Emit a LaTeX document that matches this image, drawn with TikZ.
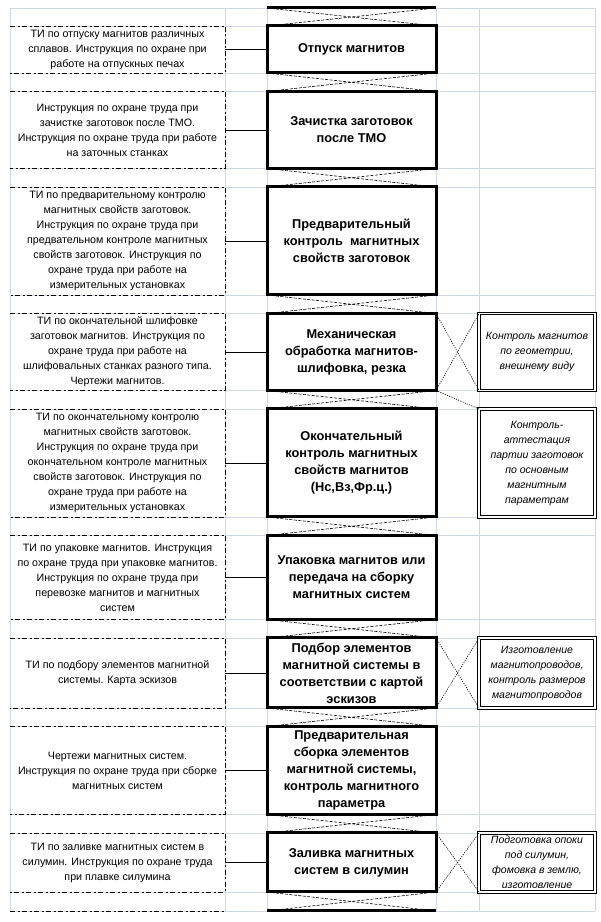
\documentclass[tikz,border=0pt]{standalone}
\usepackage{fontspec}
\setmainfont{Liberation Sans}
\usepackage{tikz}
\usetikzlibrary{positioning, backgrounds}
\definecolor{gridgray}{HTML}{D0D7E5}

\begin{document}
\begin{tikzpicture}[x=1pt, y=1pt, node distance=18.5pt,
        every node/.style={align=center, inner sep=0pt, outer sep=0pt},
        opbox/.style={draw, line width=3pt, minimum width=169pt, font=\fontsize{12.8}{17}\selectfont\bfseries},
        tibox/.style={minimum width=215pt, font=\fontsize{10.7}{15}\selectfont},
        ktbox/.style={draw, line width=0.9pt, double=white, double distance=1.3pt, minimum width=116pt, font=\fontsize{10.5}{15}\selectfont\itshape},
        tiline/.style={line width=0.8pt, dash pattern=on 5pt off 2.5pt on 2pt off 2.5pt},
        gapline/.style={line width=0.6pt, dash pattern=on 3pt off 1.5pt},
        dotline/.style={line width=0.6pt, dash pattern=on 1.2pt off 1.2pt},
        link/.style={line width=0.8pt},
        cell/.style={draw=gridgray, line width=0.8pt}]
        \useasboundingbox (0,0) rectangle (601,922);

        % operations
        \node (op1) [opbox, minimum height=47pt] at (351.5, 872.5) {Отпуск магнитов};
        \node (op2) [opbox, minimum height=77pt, below=of op1] {Зачистка заготовок\\после ТМО};
        \node (op3) [opbox, minimum height=108pt, below=of op2] {Предварительный\\контроль\ \ магнитных\\свойств заготовок};
        \node (op4) [opbox, minimum height=77pt, below=of op3] {Механическая\\обработка магнитов-\\шлифовка, резка};
        \node (op5) [opbox, minimum height=108pt, below=of op4] {Окончательный\\контроль магнитных\\свойств магнитов\\(Нс,Вз,Фр.ц.)};
        \node (op6) [opbox, minimum height=84pt, below=of op5] {Упаковка магнитов или\\передача на сборку\\магнитных систем};
        \node (op7) [opbox, minimum height=70pt, below=of op6] {Подбор элементов\\магнитной системы в\\соответствии с картой\\эскизов};
        \node (op8) [opbox, minimum height=88pt, below=of op7] {Предварительная\\сборка элементов\\магнитной системы,\\контроль магнитного\\параметра};
        \node (op9) [opbox, minimum height=59pt, below=of op8] {Заливка магнитных\\систем в силумин};

        \coordinate [above=18pt of op1.north west] (topl);
        \coordinate [above=18pt of op1.north east] (topr);
        \coordinate [below=19pt of op9.south west] (botl);
        \coordinate [below=19pt of op9.south east] (botr);

        % documents
        \node (ti1) [tibox, minimum height=47pt, left=42pt of op1] {ТИ по отпуску магнитов различных\\сплавов. Инструкция по охране при\\работе на отпускных печах};
        \node (ti2) [tibox, minimum height=77pt, left=42pt of op2] {Инструкция по охране труда при\\зачистке заготовок после ТМО.\\Инструкция по охране труда при работе\\на заточных станках};
        \node (ti3) [tibox, minimum height=108pt, left=42pt of op3] {ТИ по предварительному контролю\\магнитных свойств заготовок.\\Инструкция по охране труда при\\предвательном контроле магнитных\\свойств заготовок. Инструкция по\\охране труда при работе на\\измерительных установках};
        \node (ti4) [tibox, minimum height=77pt, left=42pt of op4] {ТИ по окончательной шлифовке\\заготовок магнитов. Инструкция по\\охране труда при работе на\\шлифовальных станках разного типа.\\Чертежи магнитов.};
        \node (ti5) [tibox, minimum height=108pt, left=42pt of op5] {ТИ по окончательному контролю\\магнитных свойств заготовок.\\Инструкция по охране труда при\\окончательном контроле магнитных\\свойств заготовок. Инструкция по\\охране труда при работе на\\измерительных установках};
        \node (ti6) [tibox, minimum height=84pt, left=42pt of op6] {ТИ по упаковке магнитов. Инструкция\\по охране труда при упаковке магнитов.\\Инструкция по охране труда при\\перевозке магнитов и магнитных\\систем};
        \node (ti7) [tibox, minimum height=70pt, left=42pt of op7] {ТИ по подбору элементов магнитной\\системы. Карта эскизов};
        \node (ti8) [tibox, minimum height=88pt, left=42pt of op8] {Чертежи магнитных систем.\\Инструкция по охране труда при сборке\\магнитных систем};
        \node (ti9) [tibox, minimum height=59pt, left=42pt of op9] {ТИ по заливке магнитных систем в\\силумин. Инструкция по охране труда\\при плавке силумина};

        % checks
        \node (kt1) [ktbox, minimum height=77pt, right=43pt of op4] {Контроль магнитов\\по геометрии,\\внешнему виду};
        \node (kt2) [ktbox, minimum height=108pt, right=43pt of op5] {Контроль-\\аттестация\\партии заготовок\\по основным\\магнитным\\параметрам};
        \node (kt3) [ktbox, minimum height=70pt, right=43pt of op7] {Изготовление\\магнитопроводов,\\контроль размеров\\магнитопроводов};
        \node (kt4) [ktbox, minimum height=59pt, right=43pt of op9] {Подготовка опоки\\под силумин,\\фомовка в землю,\\изготовление};

        \foreach \i in {1,...,9} {
            \draw[tiline] (ti\i.north west) -- (ti\i.north east) -- (ti\i.south east) -- (ti\i.south west);
            \draw[link] (ti\i) -- (op\i);
        }
        \draw[tiline] (botl -| ti9.west) -- (botl -| ti9.east);

        \foreach \a/\b in {1/2, 2/3, 3/4, 4/5, 5/6, 6/7, 7/8, 8/9} {
            \draw[gapline] (op\a.south west) -- (op\b.north east);
            \draw[gapline] (op\a.south east) -- (op\b.north west);
        }
        \draw[gapline] (topl) -- (op1.north east);
        \draw[gapline] (topr) -- (op1.north west);
        \draw[gapline] (op9.south west) -- (botr);
        \draw[gapline] (op9.south east) -- (botl);
        \draw[line width=3pt] (topl) -- (topr);
        \draw[line width=3pt] (botl) -- (botr);

        \draw[dotline] (op4.north east) -- (kt1.south west);
        \draw[dotline] (op4.south east) -- (kt1.north west);
        \draw[dotline] (op4.south east) -- (kt2.north west);
        \draw[dotline] (op7.north east) -- (kt3.south west);
        \draw[dotline] (op7.south east) -- (kt3.north west);
        \draw[dotline] (op9.north east) -- (kt4.south west);
        \draw[dotline] (op9.south east) -- (kt4.north west);

        % sheet grid
        \begin{scope}[on background layer]
            \foreach \i in {1,...,9} {
                \draw[cell] (op\i.north -| ti1.west) -- (op\i.north -| kt1.east);
                \draw[cell] (op\i.south -| ti1.west) -- (op\i.south -| kt1.east);
            }
            \draw[cell] (topl -| ti1.west) -- (topl -| kt1.east);
            \draw[cell] (botl -| ti1.west) -- (botl -| kt1.east);
            \foreach \c in {ti1.west, ti1.east, op1.west, op1.east, kt1.west, kt1.east}
                \draw[cell] (topl -| \c) -- (botl -| \c);
        \end{scope}
\end{tikzpicture}
\end{document}
